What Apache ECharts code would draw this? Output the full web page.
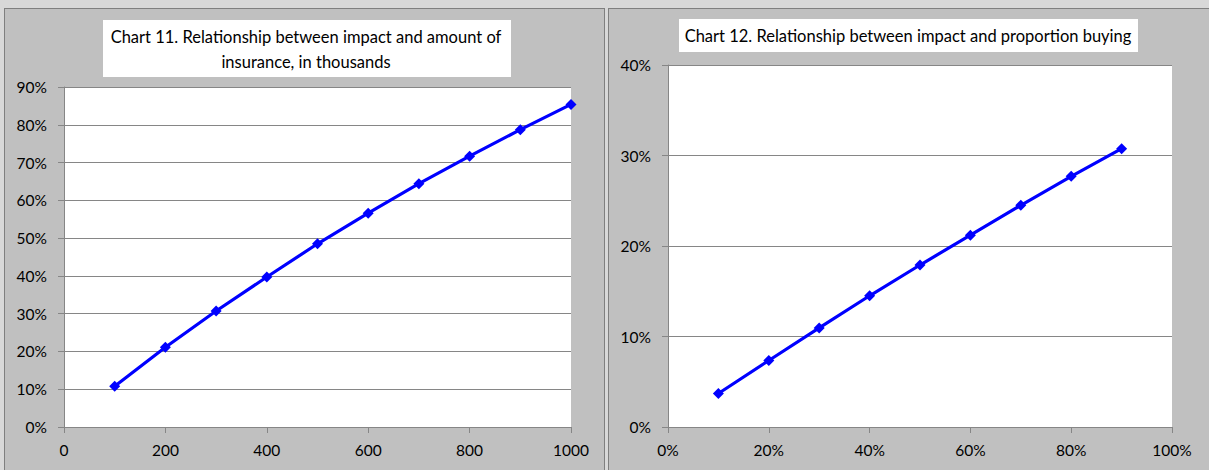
<!DOCTYPE html>
<html>
<head>
<meta charset="utf-8">
<script src="https://cdn.jsdelivr.net/npm/echarts@6/dist/echarts.min.js"></script>
<style>
  html, body { margin: 0; padding: 0; }
  body { width: 1209px; height: 470px; background: #d8d8d8; position: relative; overflow: hidden; }
  .panel { position: absolute; background: #c0c0c0; border: 1px solid #7f7f7f; box-sizing: border-box; }
  #p1 { left: 4px; top: 8px; width: 601px; height: 470px; }
  #p2 { left: 608px; top: 8px; width: 610px; height: 470px; }
  #chart { position: absolute; left: 0; top: 0; width: 1209px; height: 470px; }
</style>
</head>
<body>
<div class="panel" id="p1"></div>
<div class="panel" id="p2"></div>
<div id="chart"></div>
<script>
// Chart 11: impact (%) against amount of insurance (thousands)
const amountThousands = [100, 200, 300, 400, 500, 600, 700, 800, 900, 1000];
const impactByAmount = [10.8, 21.1, 30.7, 39.7, 48.5, 56.6, 64.4, 71.7, 78.7, 85.4];

// Chart 12: impact (%) against proportion buying (%)
const proportionBuying = [10, 20, 30, 40, 50, 60, 70, 80, 90];
const impactByProportion = [3.7, 7.35, 10.95, 14.5, 17.9, 21.2, 24.5, 27.7, 30.75];

// Axis tick values
const amountTicks = [0, 200, 400, 600, 800, 1000];
const impactTicks11 = [0, 10, 20, 30, 40, 50, 60, 70, 80, 90];
const proportionTicks = [0, 20, 40, 60, 80, 100];
const impactTicks12 = [0, 10, 20, 30, 40];

const titles = [
  'Chart 11. Relationship between impact and amount of\ninsurance, in thousands',
  'Chart 12. Relationship between impact and proportion buying'
];

const FONT = 'Lato, "Open Sans", sans-serif';
const AXIS_GREY = '#868686';
const pct = v => v + '%';

function valueAxis(gridIndex, ticks, formatter, isY) {
  return {
    type: 'value',
    gridIndex,
    min: ticks[0],
    max: ticks[ticks.length - 1],
    interval: ticks[1] - ticks[0],
    axisLine: { show: true, lineStyle: { color: AXIS_GREY, width: 1 } },
    axisTick: { show: true, length: 6, lineStyle: { color: AXIS_GREY } },
    axisLabel: {
      color: '#000', fontFamily: FONT, fontSize: 15.5,
      margin: isY ? 17 : 15,
      formatter
    },
    splitLine: { show: !!isY, lineStyle: { color: AXIS_GREY, width: 1 } }
  };
}

function lineSeries(xs, ys, idx) {
  return {
    type: 'line',
    xAxisIndex: idx, yAxisIndex: idx,
    data: xs.map((x, i) => [x, ys[i]]),
    symbol: 'diamond', symbolSize: 11,
    lineStyle: { color: '#0000ff', width: 3.2 },
    itemStyle: { color: '#0000ff' },
    animation: false
  };
}

const chart = echarts.init(document.getElementById('chart'), null, { renderer: 'svg' });
chart.setOption({
  backgroundColor: 'transparent',
  animation: false,
  grid: [
    { left: 64, top: 87, width: 507, height: 340, show: true, backgroundColor: '#fff', borderWidth: 0 },
    { left: 668, top: 65, width: 504, height: 362, show: true, backgroundColor: '#fff', borderWidth: 0 }
  ],
  xAxis: [
    valueAxis(0, amountTicks, v => String(v), false),
    valueAxis(1, proportionTicks, pct, false)
  ],
  yAxis: [
    valueAxis(0, impactTicks11, pct, true),
    valueAxis(1, impactTicks12, pct, true)
  ],
  series: [
    lineSeries(amountThousands, impactByAmount, 0),
    lineSeries(proportionBuying, impactByProportion, 1)
  ],
  graphic: [
    { type: 'rect', shape: { x: 103, y: 20, width: 408, height: 57 }, style: { fill: '#fff' }, z: 10 },
    { type: 'text', x: 306, y: 49, z: 11,
      style: { text: titles[0], fill: '#000', font: '16.5px ' + FONT, align: 'center', verticalAlign: 'middle', lineHeight: 25 } },
    { type: 'rect', shape: { x: 679, y: 19, width: 459, height: 33 }, style: { fill: '#fff' }, z: 10 },
    { type: 'text', x: 908, y: 36, z: 11,
      style: { text: titles[1], fill: '#000', font: '16.5px ' + FONT, align: 'center', verticalAlign: 'middle' } }
  ]
});
</script>
</body>
</html>
